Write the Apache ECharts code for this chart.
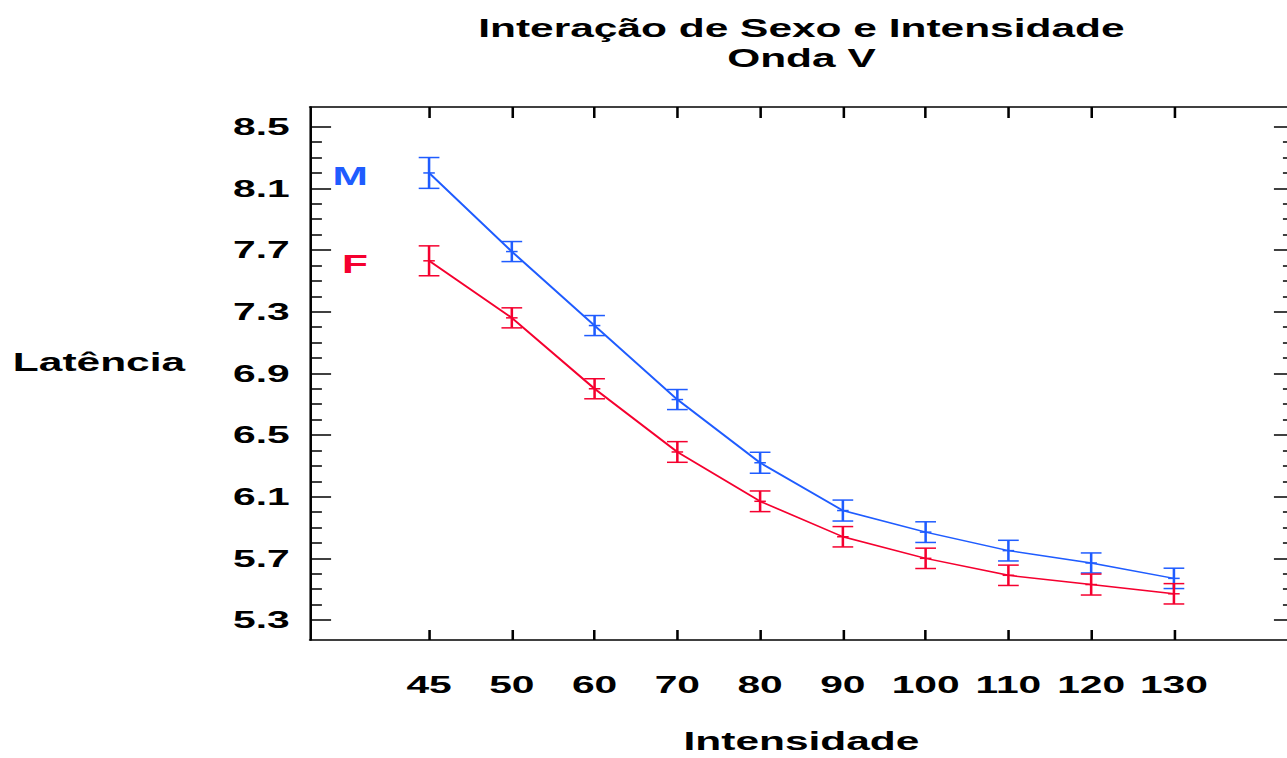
<!DOCTYPE html>
<html>
<head>
<meta charset="utf-8">
<script src="https://cdn.jsdelivr.net/npm/echarts@6/dist/echarts.min.js"></script>
<style>
  html, body { margin: 0; padding: 0; background: #fff; overflow: hidden; }
  #wrap { width: 758px; height: 758px; transform: scaleX(1.69789); transform-origin: 0 0; }
</style>
</head>
<body>
<div id="wrap"></div>
<script>
// ---- data ----
const categories = ['45', '50', '60', '70', '80', '90', '100', '110', '120', '130'];
const mMeans = [8.20, 7.69, 7.21, 6.73, 6.32, 6.01, 5.87, 5.75, 5.67, 5.57];
const mErr   = [0.100, 0.065, 0.065, 0.065, 0.068, 0.068, 0.067, 0.067, 0.065, 0.066];
const fMeans = [7.63, 7.26, 6.80, 6.39, 6.07, 5.84, 5.70, 5.59, 5.53, 5.47];
const fErr   = [0.097, 0.065, 0.065, 0.067, 0.067, 0.066, 0.066, 0.066, 0.068, 0.066];
const yMin = 5.3, yMax = 8.5, yStep = 0.4;

const BLUE = '#1f5cff';
const RED = '#f5002f';
const FONT = '"Liberation Sans", Arial, Helvetica, sans-serif';

const chart = echarts.init(document.getElementById('wrap'), null, { renderer: 'svg' });

function errorSeries(name, means, errs, color) {
  return {
    name: name + ' err',
    type: 'custom',
    xAxisIndex: 2, yAxisIndex: 1,
    z: 3,
    data: means.map((m, i) => [i, m - errs[i], m + errs[i], m]),
    renderItem: function (params, api) {
      const i = api.value(0);
      const lo = api.coord([i, api.value(1)]);
      const hi = api.coord([i, api.value(2)]);
      const mid = api.coord([i, api.value(3)]);
      const cw = 6.1, mw = 3.4;
      const st = { stroke: color, lineWidth: 1.5, fill: null };
      return {
        type: 'group',
        children: [
          { type: 'line', shape: { x1: lo[0], y1: lo[1], x2: hi[0], y2: hi[1] }, style: st },
          { type: 'line', shape: { x1: lo[0] - cw, y1: lo[1], x2: lo[0] + cw, y2: lo[1] }, style: st },
          { type: 'line', shape: { x1: hi[0] - cw, y1: hi[1], x2: hi[0] + cw, y2: hi[1] }, style: st },
          { type: 'line', shape: { x1: mid[0] - mw, y1: mid[1], x2: mid[0] + mw, y2: mid[1] }, style: st }
        ]
      };
    }
  };
}

function lineSeries(name, means, color) {
  return {
    name: name,
    type: 'line',
    xAxisIndex: 2, yAxisIndex: 1,
    data: means,
    symbol: 'circle',
    symbolSize: 0.01,
    showSymbol: true,
    z: 4,
    lineStyle: { color: color, width: 1.5 },
    itemStyle: { color: color },
    label: {
      show: true,
      position: 'left',
      distance: 36,
      offset: [0, 3],
      color: color,
      fontFamily: FONT,
      fontWeight: 'bold',
      fontSize: 25,
      formatter: p => (p.dataIndex === 0 ? name : '')
    }
  };
}

const tickFmt = v => Number(v).toFixed(1);
const frameLine = { show: true, lineStyle: { color: '#000', width: 1.5 } };

const option = {
  backgroundColor: '#fff',
  animation: false,
  title: {
    text: 'Interação de Sexo e Intensidade\nOnda V',
    left: 467,
    top: 8,
    textAlign: 'center',
    textStyle: { fontFamily: FONT, fontWeight: 'bold', fontSize: 25, lineHeight: 30, color: '#000' }
  },
  grid: [
    { left: 182.6, right: -6, top: 107, bottom: 118, outerBoundsMode: 'none' },
    { left: 252.7, right: 66.6, top: 126.7, bottom: 138, outerBoundsMode: 'none' }
  ],
  xAxis: [
    { gridIndex: 0, type: 'value', min: 0, max: 1, position: 'bottom', axisLine: frameLine,
      axisTick: { show: false }, axisLabel: { show: false }, splitLine: { show: false } },
    { gridIndex: 0, type: 'value', min: 0, max: 1, position: 'top', axisLine: frameLine,
      axisTick: { show: false }, axisLabel: { show: false }, splitLine: { show: false } },
    {
      gridIndex: 1, type: 'category', data: categories, boundaryGap: false, position: 'bottom', offset: 20,
      axisLine: { show: false },
      axisTick: { show: true, inside: true, length: 10, lineStyle: { color: '#000', width: 1.5 } },
      axisLabel: { interval: 0, margin: 33, color: '#000', fontFamily: FONT, fontWeight: 'bold', fontSize: 24 },
      splitLine: { show: false },
      name: 'Intensidade', nameLocation: 'middle', nameGap: 89,
      nameTextStyle: { color: '#000', fontFamily: FONT, fontWeight: 'bold', fontSize: 25 }
    },
    {
      gridIndex: 1, type: 'category', data: categories, boundaryGap: false, position: 'top', offset: 19.7,
      axisLine: { show: false },
      axisTick: { show: true, inside: true, length: 11, lineStyle: { color: '#000', width: 1.5 } },
      axisLabel: { show: false },
      splitLine: { show: false }
    }
  ],
  yAxis: [
    { gridIndex: 0, type: 'value', min: 0, max: 1, position: 'left', axisLine: frameLine,
      axisTick: { show: false }, axisLabel: { show: false }, splitLine: { show: false } },
    {
      gridIndex: 1, type: 'value', min: yMin, max: yMax, interval: yStep, position: 'left', offset: 70.1,
      axisLine: { show: false },
      axisTick: { show: true, inside: true, length: 12.4, lineStyle: { color: '#000', width: 1.5 } },
      minorTick: { show: true, splitNumber: 4, length: 7, lineStyle: { color: '#000', width: 1.5 } },
      axisLabel: { margin: 12, formatter: tickFmt, color: '#000', fontFamily: FONT, fontWeight: 'bold', fontSize: 24 },
      splitLine: { show: false },
      name: 'Latência', nameLocation: 'middle', nameRotate: 0, nameGap: 73.6,
      nameTextStyle: { color: '#000', fontFamily: FONT, fontWeight: 'bold', fontSize: 25, verticalAlign: 'bottom', lineHeight: 22 }
    },
    {
      gridIndex: 1, type: 'value', min: yMin, max: yMax, interval: yStep, position: 'right', offset: 66.6,
      axisLine: { show: false },
      axisTick: { show: true, inside: true, length: 7.7, lineStyle: { color: '#000', width: 1.5 } },
      minorTick: { show: true, splitNumber: 4, length: 2.4, lineStyle: { color: '#000', width: 1.5 } },
      axisLabel: { show: false },
      splitLine: { show: false }
    }
  ],
  series: [
    lineSeries('M', mMeans, BLUE),
    lineSeries('F', fMeans, RED),
    errorSeries('M', mMeans, mErr, BLUE),
    errorSeries('F', fMeans, fErr, RED)
  ]
};
chart.setOption(option);
</script>
</body>
</html>
